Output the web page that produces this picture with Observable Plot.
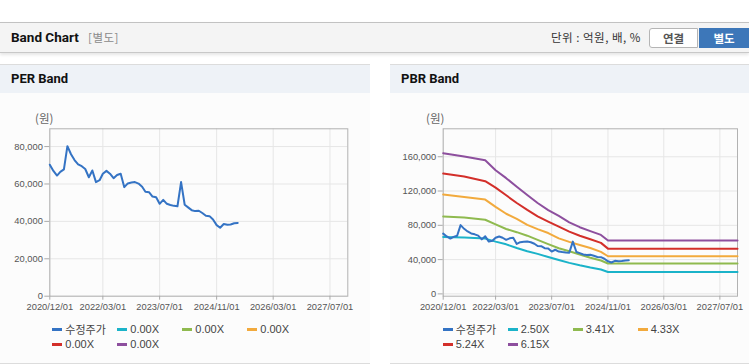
<!DOCTYPE html>
<html><head><meta charset="utf-8">
<script src="https://cdn.jsdelivr.net/npm/d3@7"></script>
<script src="https://cdn.jsdelivr.net/npm/@observablehq/plot@0.6"></script>
<style>
body{margin:0;width:749px;height:364px;position:relative;overflow:hidden;background:#fff;font-family:"Liberation Sans","Noto Sans CJK KR",sans-serif;}
.abs{position:absolute;}
#hdr{left:0;top:22px;width:749px;height:29px;border-top:1px solid #c2c2c2;border-bottom:1px solid #c8c8c8;background:#f4f4f4;box-shadow:0 2px 3px rgba(0,0,0,0.10);}
#ttl{left:11px;top:23px;line-height:29px;font-family:Roboto,"Liberation Sans",sans-serif;font-weight:bold;font-size:13.5px;color:#111;}
#sub{left:88px;top:23px;line-height:29px;font-family:"Noto Sans CJK KR",sans-serif;font-size:11.5px;color:#8a8a8a;letter-spacing:0.5px;}
#unit{left:551px;top:23px;line-height:29px;font-family:"Noto Sans CJK KR",sans-serif;font-size:11.5px;color:#333;letter-spacing:0.5px;}
#b1{left:649px;top:28px;width:47px;height:18px;border:1px solid #b5b5b5;border-radius:3px 0 0 3px;background:#fff;text-align:center;line-height:18px;font-family:"Noto Sans CJK KR",sans-serif;font-weight:bold;font-size:11.5px;color:#555;}
#b2{left:699px;top:28px;width:50px;height:20px;background:#3d77b9;text-align:center;line-height:20px;font-family:"Noto Sans CJK KR",sans-serif;font-weight:bold;font-size:11.5px;color:#fff;}
.panel{top:64px;height:298px;border-top:1px solid #dcdcdc;border-bottom:1px solid #dcdcdc;background:#fcfcfc;}
.phead{position:absolute;left:0;top:0;right:0;height:28px;background:#eef2f7;}
.ptitle{position:absolute;left:11px;top:0;line-height:28px;font-family:Roboto,"Liberation Sans",sans-serif;font-weight:bold;font-size:13px;color:#111;}
.unitlbl{top:109px;font-family:"Noto Sans CJK KR",sans-serif;font-size:11.5px;color:#666;line-height:18px;}
.leg{font-size:11px;color:#444;line-height:14px;white-space:nowrap;}
.sw{position:absolute;left:0;top:6px;width:10px;height:3px;}
.lt{position:absolute;left:13px;top:0;}
</style></head><body>
<div id="hdr" class="abs"></div>
<div id="ttl" class="abs">Band Chart</div>
<div id="sub" class="abs">[별도]</div>
<div id="unit" class="abs">단위 : 억원, 배, %</div>
<div id="b1" class="abs">연결</div>
<div id="b2" class="abs">별도</div>
<div class="abs panel" style="left:0;width:370px;"><div class="phead"></div><div class="ptitle">PER Band</div></div>
<div class="abs panel" style="left:390px;width:359px;"><div class="phead"></div><div class="ptitle">PBR Band</div></div>
<div class="abs unitlbl" style="left:35px;">(원)</div>
<div class="abs unitlbl" style="left:426px;">(원)</div>
<div id="c1" class="abs" style="left:0;top:110px;"></div>
<div id="c2" class="abs" style="left:390px;top:110px;"></div>
<div id="l1"></div>
<div id="l2"></div>
<script>
// ---- data ----
const priceMonths = ["2020-12","2021-01","2021-02","2021-03","2021-04","2021-05","2021-06","2021-07","2021-08","2021-09","2021-10","2021-11","2021-12",
"2022-01","2022-02","2022-03","2022-04","2022-05","2022-06","2022-07","2022-08","2022-09","2022-10","2022-11","2022-12",
"2023-01","2023-02","2023-03","2023-04","2023-05","2023-06","2023-07","2023-08","2023-09","2023-10","2023-11","2023-12",
"2024-01","2024-02","2024-03","2024-04","2024-05","2024-06","2024-07","2024-08","2024-09","2024-10","2024-11","2024-12",
"2025-01","2025-02","2025-03","2025-04","2025-05"];
const price = [70300,67000,64500,66500,67800,80200,75900,72800,70500,69500,68000,63600,67200,
61000,62000,65500,67000,65500,63100,64800,65500,58300,60300,60800,61000,
60200,58500,55800,55600,53300,52900,49400,51500,49400,48800,48300,48100,
61000,48900,47500,46000,45500,45700,44500,43000,42800,41000,38000,36600,
38600,38200,38300,39000,39200];

const bandDates = ["2020-12-01","2021-06-01","2021-12-01","2022-03-01","2022-06-01","2022-09-01","2022-12-01","2023-03-01","2023-06-01","2023-09-01","2023-12-01","2024-03-01","2024-06-01","2024-09-01","2024-11-01","2027-12-01"];
const band250 = [66500,65700,64500,61000,57800,53500,49800,46700,43000,39500,36200,33300,30700,28400,25500,25500];
const band341 = [90300,89000,86500,81000,75700,72000,67900,63000,58000,53200,49700,46000,42200,38900,35400,35400];
const band433 = [116000,113000,110000,101500,93500,87500,80500,75500,71000,64800,60700,57000,53500,49000,43900,43900];
const band524 = [140400,137000,131500,124000,115000,106000,98000,90500,84300,78400,72700,67800,63700,59500,52800,52800];
const band615 = [164200,160300,155800,144200,135000,124900,115300,106000,97800,91000,83500,77800,73200,68800,62300,62300];

const perLegend = ["수정주가","0.00X","0.00X","0.00X","0.00X","0.00X"];
const pbrLegend = ["수정주가","2.50X","3.41X","4.33X","5.24X","6.15X"];
const colors = ["#3473c4","#1bb3c9","#8fba4f","#f2aa3d","#d32f2a","#8d4f9e"];

const xTickLabels = ["2020-12-01","2022-03-01","2023-07-01","2024-11-01","2026-03-01","2027-07-01"];
const xDomain = ["2020-12-01","2027-12-01"];
const perYTicks = [0,20000,40000,60000,80000];
const pbrYTicks = [0,40000,80000,120000,160000];

// ---- build ----
const pD = d3.utcParse("%Y-%m-%d"), pM = d3.utcParse("%Y-%m");
const priceRows = priceMonths.map((m,i)=>({date:pM(m), value:price[i]}));
const bands = [band250,band341,band433,band524,band615].map(arr=>bandDates.map((d,i)=>({date:pD(d), value:arr[i]})));
const xTicks = xTickLabels.map(pD);
const fmtX = d3.utcFormat("%Y/%m/%d");
const fmtY = d3.format(",");

function chart({width, ml, mr, yDomain, yTicks, bandSets}) {
  const marks = [
    Plot.gridX(xTicks, {stroke:"#e6e6e6", strokeOpacity:1}),
    Plot.gridY(yTicks, {stroke:"#e6e6e6", strokeOpacity:1}),
    Plot.frame({stroke:"#b2b2b2"}),
    Plot.axisX(xTicks, {tickFormat:fmtX, tickSize:4, tickPadding:3, stroke:"#aaa", fill:"#555"}),
    Plot.axisY(yTicks, {tickFormat:fmtY, tickSize:5, tickPadding:2, stroke:"#aaa", fill:"#555"})
  ];
  bandSets.forEach((rows,i)=>marks.push(Plot.line(rows,{x:"date",y:"value",stroke:colors[i+1],strokeWidth:2})));
  marks.push(Plot.line(priceRows,{x:"date",y:"value",stroke:colors[0],strokeWidth:2}));
  return Plot.plot({
    width, height:210, marginLeft:ml, marginRight:mr, marginTop:18.3, marginBottom:24.3,
    x:{type:"utc", domain:xDomain.map(pD), label:null},
    y:{domain:yDomain, label:null},
    style:{fontFamily:"'Liberation Sans',Arial,sans-serif", fontSize:"9.3px", background:"transparent", overflow:"visible"},
    marks
  });
}
document.getElementById("c1").append(chart({width:370, ml:49.3, mr:22.7, yDomain:[0,89500], yTicks:perYTicks, bandSets:[]}));
document.getElementById("c2").append(chart({width:359, ml:52.7, mr:12, yDomain:[-2700,192600], yTicks:pbrYTicks, bandSets:bands}));

function legend(id, names, x0) {
  const host = document.getElementById(id);
  names.forEach((n,i)=>{
    const col = i%4, row = Math.floor(i/4);
    const d = document.createElement("div");
    d.className = "abs leg";
    d.style.left = (x0 + col*65) + "px";
    d.style.top = (322 + row*15) + "px";
    d.innerHTML = `<div class="sw" style="background:${colors[i]}"></div><div class="lt"></div>`;
    d.querySelector(".lt").textContent = n;
    if (i===0) d.querySelector(".lt").style.fontFamily = "'Noto Sans CJK KR',sans-serif";
    host.append(d);
  });
}
legend("l1", perLegend, 52.3);
legend("l2", pbrLegend, 442.7);
</script>
</body></html>
